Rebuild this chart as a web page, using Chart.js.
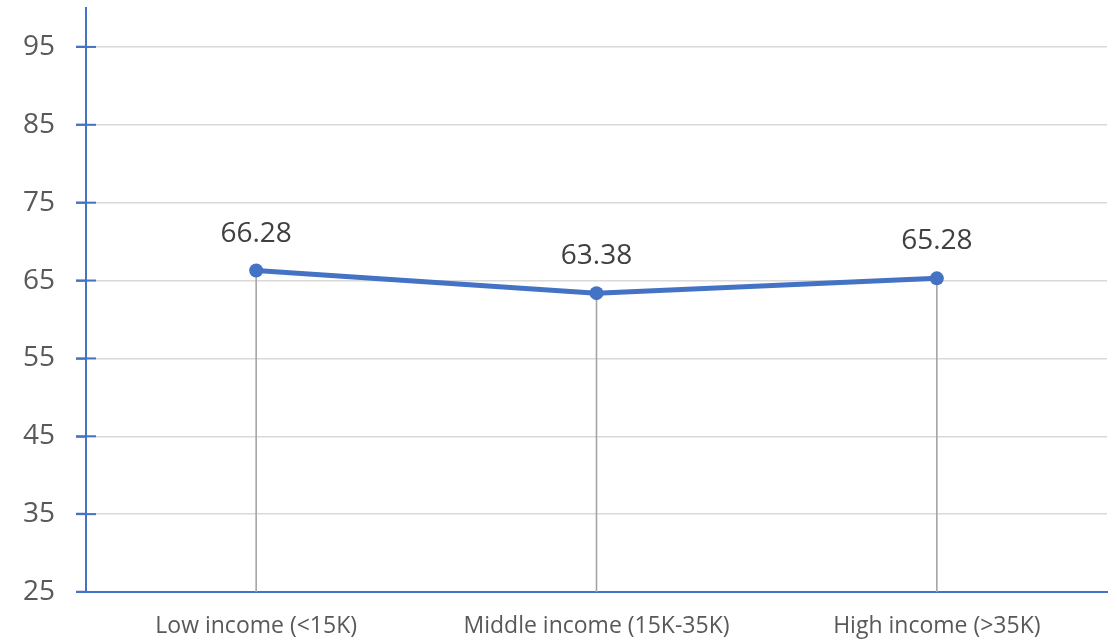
<!DOCTYPE html>
<html>
<head>
<meta charset="utf-8">
<script src="https://cdn.jsdelivr.net/npm/chart.js@4/dist/chart.umd.min.js"></script>
<style>
  html, body { margin: 0; padding: 0; background: #fff; }
  #box { width: 1117px; height: 640px; }
</style>
</head>
<body>
<div id="box"><canvas id="grafico"></canvas></div>
<script>
// categorias e valores da série
const categorias = ['Low income (<15K)', 'Middle income (15K-35K)', 'High income (>35K)'];
const valores = [66.28, 63.38, 65.28];
const ticksY = [25, 35, 45, 55, 65, 75, 85, 95];

const azul = '#4472C4';
const fonte = '"Open Sans", sans-serif';

// linhas verticais cinzentas de cada ponto até o eixo X
const linhasQueda = {
  id: 'linhasQueda',
  beforeDatasetsDraw(chart) {
    const ctx = chart.ctx;
    const y = chart.scales.y;
    const meta = chart.getDatasetMeta(0);
    ctx.save();
    ctx.strokeStyle = '#A5A5A5';
    ctx.lineWidth = 1.6;
    meta.data.forEach(p => {
      ctx.beginPath();
      ctx.moveTo(p.x, p.y);
      ctx.lineTo(p.x, y.bottom);
      ctx.stroke();
    });
    ctx.restore();
  }
};

// marcas cruzadas no eixo Y e rótulos de valor
const extras = {
  id: 'extras',
  afterDraw(chart) {
    const ctx = chart.ctx;
    const y = chart.scales.y;
    ctx.save();
    ctx.strokeStyle = azul;
    ctx.lineWidth = 2;
    ticksY.forEach(v => {
      const py = y.getPixelForValue(v);
      ctx.beginPath();
      ctx.moveTo(y.right - 10, py);
      ctx.lineTo(y.right + 10, py);
      ctx.stroke();
    });

    const meta = chart.getDatasetMeta(0);
    ctx.fillStyle = '#404040';
    ctx.font = '28px ' + fonte;
    ctx.textAlign = 'center';
    ctx.textBaseline = 'middle';
    meta.data.forEach((p, i) => {
      ctx.fillText(valores[i].toFixed(2), p.x, p.y - 37);
    });
    ctx.restore();
  }
};

new Chart(document.getElementById('grafico'), {
  type: 'line',
  data: {
    labels: categorias,
    datasets: [{
      data: valores,
      borderColor: azul,
      backgroundColor: azul,
      borderWidth: 5,
      pointRadius: 7,
      pointHoverRadius: 7,
      pointBorderWidth: 0,
      tension: 0
    }]
  },
  options: {
    responsive: true,
    maintainAspectRatio: false,
    animation: false,
    layout: { autoPadding: false, padding: { left: 23, right: 10, top: 8, bottom: 0 } },
    plugins: {
      legend: { display: false },
      tooltip: { enabled: false }
    },
    scales: {
      x: {
        offset: true,
        grid: { display: true, drawOnChartArea: false, drawTicks: false, color: 'transparent' },
        border: { display: true, color: azul, width: 2 },
        ticks: {
          color: '#595959',
          padding: 21,
          maxRotation: 0,
          font: { family: fonte, size: 23 }
        },
        afterFit(scale) { scale.height = 48; }
      },
      y: {
        min: 25,
        max: 100,
        afterBuildTicks(scale) {
          scale.ticks = ticksY.map(v => ({ value: v }));
        },
        afterFit(scale) {
          scale.width = 63;
          scale.paddingTop = 0;
          scale.paddingBottom = 0;
        },
        grid: {
          color: '#D9D9D9',
          lineWidth: 1.5,
          tickLength: 10,
          tickColor: azul,
          tickWidth: 2
        },
        border: { display: true, color: azul, width: 2 },
        ticks: {
          color: '#595959',
          padding: 21,
          font: { family: fonte, size: 28, lineHeight: 0.5 }
        }
      }
    }
  },
  plugins: [linhasQueda, extras]
});
</script>
</body>
</html>
